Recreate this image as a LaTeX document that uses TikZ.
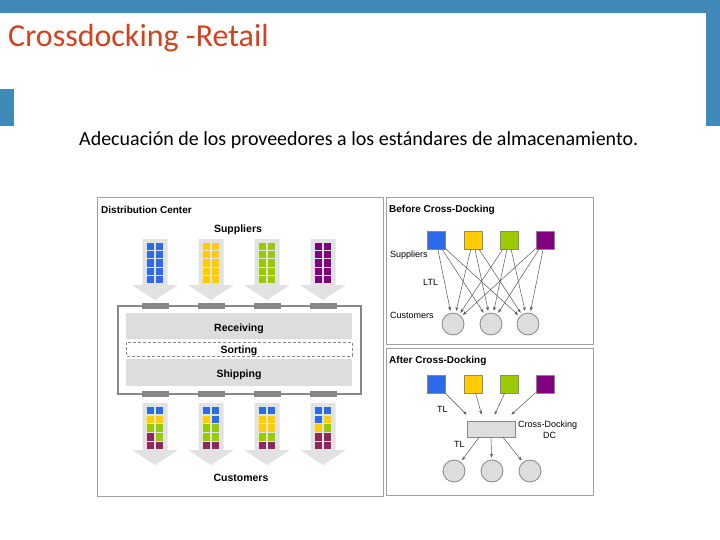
\documentclass[tikz,border=0pt]{standalone}
\usepackage{fontspec}
\setmainfont{Carlito}
\newfontfamily\arialf{Liberation Sans}
\usetikzlibrary{arrows.meta}
\definecolor{bandblue}{RGB}{64,137,184}
\definecolor{titlered}{RGB}{210,66,30}
\definecolor{bluec}{RGB}{45,105,235}
\definecolor{yellowc}{RGB}{255,204,0}
\definecolor{greenc}{RGB}{153,204,0}
\definecolor{purplec}{RGB}{128,0,128}
\definecolor{maroonc}{RGB}{140,40,90}
\definecolor{arrowgray}{RGB}{226,226,226}
\definecolor{bandgray}{RGB}{221,221,221}
\definecolor{framegray}{RGB}{160,160,160}
\definecolor{darkgray2}{RGB}{136,136,136}
\definecolor{linegray}{RGB}{85,85,85}
\tikzset{
  lbl/.style={font=\arialf\fontsize{9}{10}\selectfont, inner sep=0, anchor=base west},
  blbl/.style={font=\arialf\bfseries\fontsize{10}{11}\selectfont, inner sep=0, anchor=base west},
  clbl/.style={font=\arialf\bfseries\fontsize{10.5}{12}\selectfont, inner sep=0, anchor=base},
  sqnode/.style={draw=darkgray2, line width=0.8pt, minimum size=18pt, inner sep=0},
  cnode/.style={circle, draw=darkgray2, fill=bandgray, line width=0.8pt, minimum size=22pt, inner sep=0},
  conn/.style={draw=linegray, line width=0.5pt, -{Stealth[length=4pt,width=3pt]}},
  panel/.style={draw=framegray, line width=1pt},
}
\newcommand{\bigarrow}[3]{% center x, top y, tip y
  \fill[arrowgray] ({#1-12.5},#2) -- ({#1+12.5},#2) -- ({#1+12.5},{#3-15}) -- ({#1+23},{#3-15})
    -- (#1,#3) -- ({#1-23},{#3-15}) -- ({#1-12.5},{#3-15}) -- cycle;}
\begin{document}
\begin{tikzpicture}[x=1pt,y=-1pt]
\useasboundingbox (0,0) rectangle (720,540);
% slide frame
\fill[bandblue] (0,0) rectangle (720,13);
\fill[bandblue] (706,0) rectangle (720,126);
\fill[bandblue] (0,89) rectangle (14,126);
\node[anchor=base west, inner sep=0, text=titlered, font=\fontsize{32}{36}\selectfont] (title) at (8,47) {Crossdocking -Retail};
\node[anchor=base west, inner sep=0, font=\fontsize{20}{24}\selectfont] (sub) at (79,146) {Adecuación de los proveedores a los estándares de almacenamiento.};

% ===== left panel =====
\draw[panel] (97,198) rectangle (383,496);
\node[blbl] (dctitle) at (101,214) {Distribution Center};
\node[clbl] (supl) at (238,233) {Suppliers};
% top arrows with blocks
\foreach \c/\col in {155/bluec,211/yellowc,267/greenc,323/purplec}{
  \bigarrow{\c}{239}{300}
  \foreach \r in {0,...,4}{
    \fill[\col] ({\c-8},{243+8.2*\r}) rectangle ++(7.4,7.2);
    \fill[\col] ({\c+0.6},{243+8.2*\r}) rectangle ++(7.4,7.2);
  }
}
% building
\draw[darkgray2, line width=1.5pt] (118,306) rectangle (361,394);
\foreach \c in {155,211,267,323}{
  \fill[darkgray2] ({\c-13.5},303) rectangle ++(27,6);
  \fill[darkgray2] ({\c-13.5},391) rectangle ++(27,6);
}
\fill[bandgray] (126,313) rectangle (352,339);
\draw[darkgray2, dashed, line width=0.8pt, dash pattern=on 3pt off 2pt] (126,342) rectangle (352,356);
\fill[bandgray] (126,359) rectangle (352,386);
\node[clbl] (recv) at (239,331) {Receiving};
\node[clbl] (sort) at (239,353.5) {Sorting};
\node[clbl] (ship) at (239,377) {Shipping};
% bottom arrows with mixed blocks
\foreach \c in {155,211,267,323}{ \bigarrow{\c}{403}{465} }
\foreach \c/\r/\ca/\cb in {
  155/0/bluec/bluec, 155/1/yellowc/yellowc, 155/2/greenc/greenc, 155/3/maroonc/greenc, 155/4/maroonc/maroonc,
  211/0/bluec/bluec, 211/1/yellowc/bluec, 211/2/greenc/greenc, 211/3/greenc/greenc, 211/4/maroonc/maroonc,
  267/0/bluec/bluec, 267/1/yellowc/yellowc, 267/2/yellowc/yellowc, 267/3/greenc/greenc, 267/4/maroonc/maroonc,
  323/0/bluec/bluec, 323/1/bluec/yellowc, 323/2/yellowc/greenc, 323/3/maroonc/maroonc, 323/4/maroonc/maroonc}{
  \fill[\ca] ({\c-8},{407+8.7*\r}) rectangle ++(7.4,7.4);
  \fill[\cb] ({\c+0.6},{407+8.7*\r}) rectangle ++(7.4,7.4);
}
\node[clbl] (cust) at (241,481) {Customers};

% ===== before cross-docking =====
\draw[panel] (386,198) rectangle (593,344);
\node[blbl] (btitle) at (389,212) {Before Cross-Docking};
\node[sqnode, fill=bluec] (b1) at (436,240) {};
\node[sqnode, fill=yellowc] (b2) at (473,240) {};
\node[sqnode, fill=greenc] (b3) at (509,240) {};
\node[sqnode, fill=purplec] (b4) at (545,240) {};
\node[cnode] (bc1) at (453,324) {};
\node[cnode] (bc2) at (491,324) {};
\node[cnode] (bc3) at (528,324) {};
\foreach \s in {b1,b2,b3,b4}{
  \foreach \t in {bc1,bc2,bc3}{ \draw[conn, shorten >=2pt] (\s) -- (\t); }
}
\node[lbl] (bsup) at (390,257) {Suppliers};
\node[lbl] (ltl) at (423,285) {LTL};
\node[lbl] (bcus) at (390,318) {Customers};

% ===== after cross-docking =====
\draw[panel] (386,348) rectangle (593,495);
\node[blbl] (atitle) at (389,363) {After Cross-Docking};
\node[sqnode, fill=bluec] (a1) at (436,384) {};
\node[sqnode, fill=yellowc] (a2) at (473,384) {};
\node[sqnode, fill=greenc] (a3) at (509,384) {};
\node[sqnode, fill=purplec] (a4) at (545,384) {};
\node[draw=darkgray2, fill=bandgray, line width=0.8pt, minimum width=48pt, minimum height=16pt, inner sep=0] (dc) at (491,429) {};
\node[cnode] (ac1) at (454,471) {};
\node[cnode] (ac2) at (492,471) {};
\node[cnode] (ac3) at (530,471) {};
\draw[conn] (a1) -- ([yshift=6pt]dc.north west);
\draw[conn] (a2) -- ([xshift=15pt,yshift=6pt]dc.north west);
\draw[conn] (a3) -- ([xshift=28pt,yshift=6pt]dc.north west);
\draw[conn] (a4) -- ([xshift=-4pt,yshift=6pt]dc.north east);
\draw[conn, shorten >=2pt] ([xshift=-12pt]dc.south) -- (ac1);
\draw[conn, shorten >=2pt] (dc.south) -- (ac2);
\draw[conn, shorten >=2pt] ([xshift=12pt]dc.south) -- (ac3);
\node[lbl] (tl1) at (437,412) {TL};
\node[lbl] (tl2) at (454,447) {TL};
\node[lbl] (cdl) at (518,427) {Cross-Docking};
\node[lbl] (dcl) at (543,438) {DC};
\end{tikzpicture}
\end{document}
